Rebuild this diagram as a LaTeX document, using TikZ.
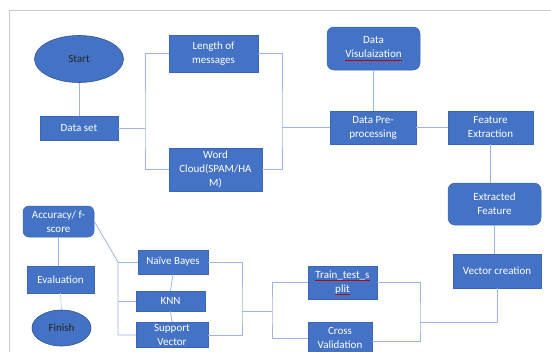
\documentclass[tikz,border=0pt]{standalone}
\usepackage{fontspec}
\setmainfont{Carlito}
\usetikzlibrary{shapes.geometric}
\definecolor{boxblue}{HTML}{4472C4}
\definecolor{boxedge}{HTML}{3A66B5}
\definecolor{ovaledge}{HTML}{2F5597}
\definecolor{linkblue}{HTML}{9DB5E3}
\definecolor{framegray}{HTML}{C8C8C8}
\newcommand\squig[1]{\setbox0\hbox{#1}\rlap{\color{red!75!black}\rule[-2.3pt]{\wd0}{0.4pt}}\box0}
\tikzset{
  box/.style={rectangle, fill=boxblue, draw=boxedge, line width=0.5pt, text=white,
    font=\fontsize{11}{14}\selectfont, align=center, inner sep=0pt},
  rbox/.style={box, rounded corners=7pt},
  oval/.style={ellipse, fill=boxblue, draw=ovaledge, line width=0.6pt, text=black!85,
    font=\fontsize{11}{14}\selectfont, inner sep=0pt},
  link/.style={draw=linkblue, line width=0.8pt},
}
\begin{document}
\begin{tikzpicture}[x=1pt,y=-1pt]
\clip (0,0) rectangle (551,351);
\fill[white] (0,0) rectangle (551,351);
\draw[framegray, line width=0.8pt] (9,360) -- (9,10) -- (560,10);

% nodes
\node[oval, minimum width=89, minimum height=47] (st) at (79,59) {Start};
\node[box, minimum width=78, minimum height=24] (ds) at (79,128) {Data set};
\node[box, minimum width=89, minimum height=37] (len) at (213.5,53.5) {Length of\\messages};
\node[box, minimum width=93, minimum height=43] (wc) at (215.5,169.5) {Word\\Cloud(SPAM/HA\\M)};
\node[rbox, minimum width=93, minimum height=43] (vis) at (373.5,48.5) {Data\\\squig{Visulaization}};
\node[box, minimum width=86, minimum height=33] (pre) at (373,127.5) {Data Pre-\\processing};
\node[box, minimum width=85, minimum height=33] (fe) at (490.5,127.5) {Feature\\Extraction};
\node[rbox, minimum width=93, minimum height=42] (ef) at (494.5,204) {Extracted\\Feature};
\node[box, minimum width=88, minimum height=34] (vc) at (497,271) {Vector creation};
\node[box, minimum width=69, minimum height=33] (tts) at (342.5,282.5) {\squig{Train\_test\_s}\\\squig{plit}};
\node[box, minimum width=64, minimum height=32] (cv) at (340,338) {Cross\\Validation};
\node[rbox, rounded corners=6pt, minimum width=71, minimum height=31] (acc) at (58.5,221.5) {Accuracy/ f-\\score};
\node[box, minimum width=67, minimum height=27] (ev) at (60.5,279.5) {Evaluation};
\node[oval, minimum width=59, minimum height=36] (fin) at (61.5,328) {Finish};
\node[box, minimum width=70, minimum height=24] (nb) at (173,262) {Naïve Bayes};
\node[box, minimum width=69, minimum height=20] (knn) at (170.5,301) {KNN};
\node[box, minimum width=72, minimum height=25] (sv) at (172,335) {Support\\Vector};

% junction points
\coordinate (b1) at (145,128);
\coordinate (b2) at (282,127.5);
\coordinate (b3) at (420,322);
\coordinate (b4) at (272,311);
\coordinate (b5) at (242,311);
\coordinate (b6) at (118,262);

% connectors
\draw[link] (st.south) -- (ds.north);
\draw[link] (ds.east) -- (b1);
\draw[link] (len.west) -| (b1) |- (wc.west);
\draw[link] (len.east) -| (b2) |- (wc.east);
\draw[link] (b2) -- (pre.west);
\draw[link] (vis.south) -- (vis.south |- pre.north);
\draw[link] (pre.east) -- (fe.west);
\draw[link] (fe.south) -- (fe.south |- ef.north);
\draw[link] (ef.south) -- (ef.south |- vc.north);
\draw[link] (vc.south) |- (b3);
\draw[link] (tts.east) -| (b3) |- ([yshift=-3pt]cv.east);
\draw[link] (tts.west) -| (b4) |- (cv.west);
\draw[link] (b4) -- (b5);
\draw[link] (nb.east) -| (b5) |- (sv.east);
\draw[link] (acc.east) -- (b6) |- (sv.west);
\draw[link] (b6) -- (nb.west);
\draw[link] (knn.west) -- (knn.west -| b6);
\draw[link] (nb.south) -- (knn.north);
\draw[link] (knn.south) -- (sv.north);
\draw[link] (acc.south) -- (acc.south |- ev.north);
\draw[link, draw=linkblue!60] (ev.south) -- (fin.north);
\end{tikzpicture}
\end{document}
